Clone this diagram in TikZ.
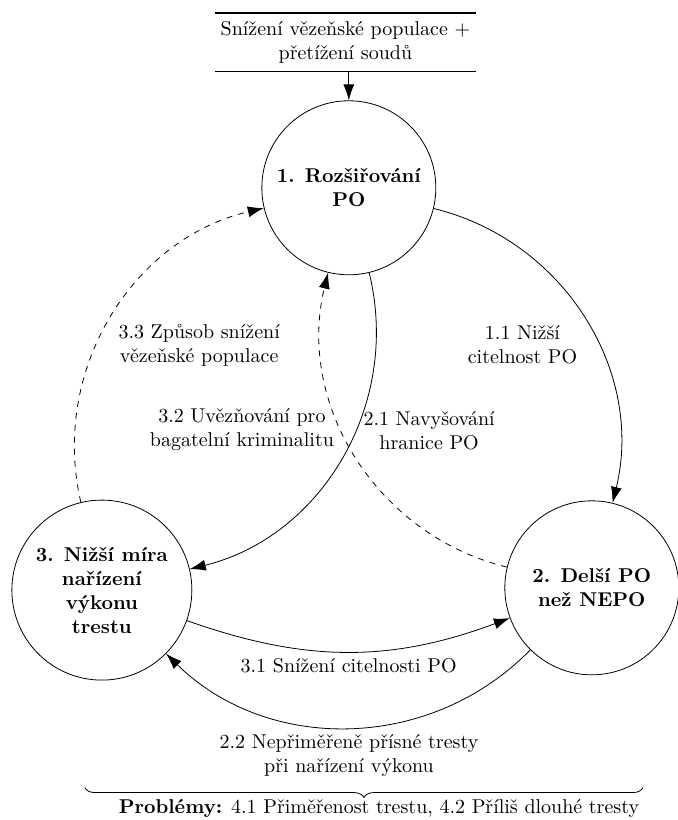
\documentclass[tikz,border=0pt]{standalone}
\usepackage{fontspec}
\usetikzlibrary{arrows.meta,decorations.pathreplacing}

\tikzset{
  stav/.style={draw, circle, thin, align=center, font=\bfseries, inner sep=1pt, minimum size=87pt},
  popis/.style={align=center},
  vstupbox/.style={align=center, inner xsep=2.5pt, inner ysep=4pt},
}

\begin{document}
\begin{tikzpicture}[>={Latex[length=8pt,width=5.5pt]}]
  \useasboundingbox (0,0) rectangle (11.9,14.41);

  \draw (6.07,13.67) node[vstupbox] (vstup) {Snížení vězeňské populace +\\přetížení soudů};
  \draw[thick] (vstup.north west) -- (vstup.north east);
  \draw[thick] (vstup.south west) -- (vstup.south east);

  \draw (6.13,11.11) node[stav] (rozsir) {1. Rozšiřování\\PO};
  \draw (10.40,4.08) node[stav] (delsi) {2. Delší PO\\než NEPO};
  \draw (1.79,4.04) node[stav, minimum size=90pt] (nizsi) {3. Nižší míra\\nařízení\\výkonu\\trestu};

  \draw[->] (vstup.south -| rozsir) -- (rozsir);

  \path[->] (rozsir) edge[bend left=45] node[popis, below left] {1.1 Nižší\\citelnost PO} (delsi);
  \path[->] (rozsir) edge[bend left=45] node[popis, above left] {3.2 Uvězňování pro\\bagatelní kriminalitu} (nizsi);
  \path[->,dashed] (delsi) edge[bend left=45] node[popis, above right] {2.1 Navyšování\\hranice PO} (rozsir);
  \path[->,dashed] (nizsi) edge[bend left=45] node[popis, below right] {3.3 Způsob snížení\\vězeňské populace} (rozsir);
  \path[->] (nizsi) edge[bend right=20] node[popis, below] {3.1 Snížení citelnosti PO} (delsi);
  \path[->] (delsi) edge[bend left=45] node[popis, below] {2.2 Nepřiměřeně přísné tresty\\při nařízení výkonu} (nizsi);

  \coordinate (zl) at (1.49,0.57);
  \coordinate (zp) at (11.30,0.57);
  \draw[decorate, decoration={brace, mirror, amplitude=5pt}] (zl) -- (zp);
  \draw (6.66,0.2) node (problemy) {\textbf{Problémy:} 4.1 Přiměřenost trestu, 4.2 Příliš dlouhé tresty};

\end{tikzpicture}
\end{document}
